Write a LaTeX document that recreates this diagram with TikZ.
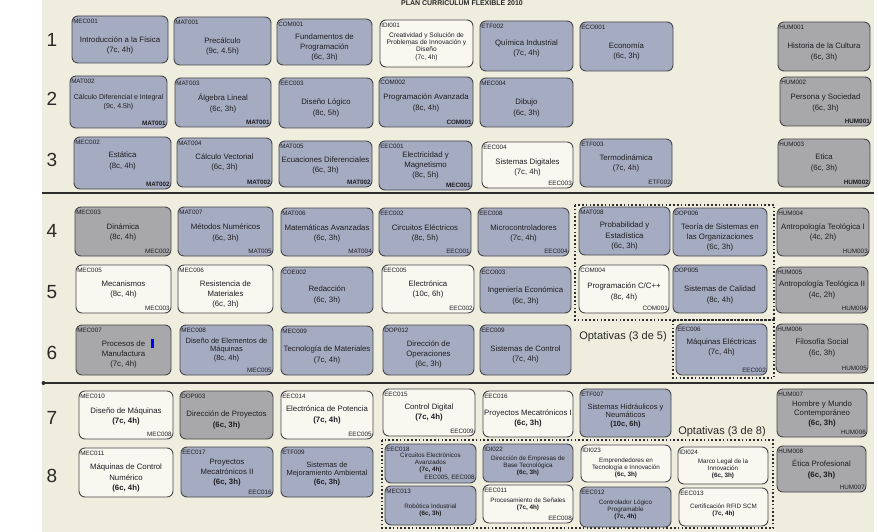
\documentclass[tikz,border=0pt]{standalone}
\usepackage{fontspec}
\setmainfont{Liberation Sans}
\usetikzlibrary{fit}
\definecolor{bgc}{RGB}{238,237,222}
\definecolor{bluec}{RGB}{165,171,192}
\definecolor{greyc}{RGB}{168,168,170}
\definecolor{whitec}{RGB}{248,247,240}
\definecolor{boxline}{RGB}{70,70,75}
\definecolor{txt}{RGB}{30,30,35}
\definecolor{numc}{RGB}{40,40,40}
\definecolor{sepc}{RGB}{45,45,45}
\tikzset{
 crsbox/.style={draw=boxline, line width=0.9pt, rounded corners=6pt, inner sep=0pt, align=center, text=txt, font=\fontsize{7.8}{10.3}\selectfont},
 bl/.style={crsbox, fill=bluec},
 gr/.style={crsbox, fill=greyc},
 wh/.style={crsbox, fill=whitec},
 mid/.style={font=\fontsize{7}{9.3}\selectfont},
 idsm/.style={font=\fontsize{6.6}{7.3}\selectfont},
 tight/.style={font=\fontsize{7.5}{8.4}\selectfont},
 semi/.style={font=\fontsize{7.8}{9.5}\selectfont},
 sm/.style={font=\fontsize{6.3}{6.9}\selectfont},
 codesty/.style={inner sep=0pt, font=\fontsize{6.3}{7}\selectfont, text=txt},
 presty/.style={inner sep=0pt, font=\fontsize{6.3}{7}\selectfont, text=txt},
 rownum/.style={font=\fontsize{19}{19}\selectfont, text=numc},
 optlabel/.style={font=\fontsize{11}{11}\selectfont, text=numc},
 sepline/.style={line width=1.4pt, draw=sepc},
 optbox/.style={draw=sepc, line width=1.8pt, dash pattern=on 1.6pt off 2.2pt},
}
% #1 name/code, #2-#5 corners, #6 style, #7 body shift down, #8 body, #9 prerequisite
\newcommand\crs[9]{%
 \node[#6, fit={(#2,#3) (#4,#5)}] (#1) {};
 \node[#6, fill=none, draw=none] (#1t) at ([shift={(0,#7)}]#1.center) {#8};
 \node[codesty, anchor=north west] (#1c) at ([xshift=1.5pt,yshift=-3pt]#1.north west) {#1};
 \node[presty, anchor=south east] (#1p) at ([xshift=-1.5pt,yshift=2.5pt]#1.south east) {#9};
}
\begin{document}
\begin{tikzpicture}[x=1pt,y=-1pt]
\useasboundingbox (0,0) rectangle (878,532);
\fill[white] (0,0) rectangle (878,532);
\fill[bgc] (42,0) rectangle (874,532);
\node[font=\bfseries\fontsize{7}{7}\selectfont, text=numc] (title) at (462,3.5) {PLAN CURRICULUM FLEXIBLE 2010};
% row numbers
\node[rownum] (r1) at (52,40) {1};
\node[rownum] (r2) at (52,99) {2};
\node[rownum] (r3) at (52,160) {3};
\node[rownum] (r4) at (52,231) {4};
\node[rownum] (r5) at (52,292) {5};
\node[rownum] (r6) at (52,353) {6};
\node[rownum] (r7) at (52,418) {7};
\node[rownum] (r8) at (52,476) {8};
% separators
\coordinate (s1a) at (42,193); \coordinate (s1b) at (874,193);
\coordinate (s2a) at (42,383); \coordinate (s2b) at (874,383);
\draw[sepline] (s1a) -- (s1b);
\draw[sepline] (s2a) -- (s2b);
\fill[sepc] (43.5,383) circle (2pt);
% optional groups
\draw[optbox] (575,205) rectangle (774,320);
\draw[optbox] (673,320) rectangle (774,378);
\draw[optbox] (382,440) rectangle (773,528);
\node[optlabel] (opt5) at (623,337) {Optativas (3 de 5)};
\node[optlabel] (opt8) at (722,432) {Optativas (3 de 8)};
% row 1
\crs{MEC001}{72}{16}{168}{63}{bl}{6}{Introducción a la Física\\(7c, 4h)}{}
\crs{MAT001}{174}{17}{271}{65}{bl}{5.5}{Precálculo\\(9c, 4.5h)}{}
\crs{COM001}{277}{19}{372}{65}{bl}{5.5}{Fundamentos de\\Programación\\(6c, 3h)}{}
\crs{IDI001}{380}{20}{473}{67}{wh,idsm}{3}{Creatividad y Solución de\\Problemas de Innovación y\\Diseño\\(7c, 4h)}{}
\crs{ETF002}{480}{21}{573}{71}{bl}{2.5}{Química Industrial\\(7c, 4h)}{}
\crs{ECO001}{580}{22}{673}{71}{bl}{5}{Economía\\(6c, 3h)}{}
\crs{HUM001}{778}{22}{870}{71}{gr}{5.5}{Historia de la Cultura\\(6c, 3h)}{}
% row 2
\crs{MAT002}{70}{76}{167}{128}{bl,mid}{0}{Cálculo Diferencial e Integral\\(9c, 4.5h)}{\textbf{MAT001}}
\crs{MAT003}{175}{78}{271}{127}{bl}{1}{Álgebra Lineal\\(6c, 3h)}{\textbf{MAT001}}
\crs{EEC003}{279}{78}{373}{128}{bl}{5}{Diseño Lógico\\(8c, 5h)}{}
\crs{COM002}{379}{77}{473}{127}{bl}{1}{Programación Avanzada\\(8c, 4h)}{\textbf{COM001}}
\crs{MEC004}{480}{78}{573}{127}{bl}{5.5}{Dibujo\\(6c, 3h)}{}
\crs{HUM002}{780}{77}{871}{126}{gr}{1.5}{Persona y Sociedad\\(6c, 3h)}{\textbf{HUM001}}
% row 3
\crs{MEC002}{74}{137}{171}{189}{bl}{-2}{Estática\\(8c, 4h)}{\textbf{MAT002}}
\crs{MAT004}{177}{138}{272}{187}{bl}{0}{Cálculo Vectorial\\(6c, 3h)}{\textbf{MAT002}}
\crs{MAT005}{279}{141}{372}{187}{bl}{1.5}{Ecuaciones Diferenciales\\(6c, 3h)}{\textbf{MAT002}}
\crs{EEC001}{379}{141}{472}{190}{bl}{0}{Electricidad y\\Magnetismo\\(8c, 5h)}{\textbf{MEC001}}
\crs{EEC004}{482}{142}{573}{188}{wh}{2.5}{Sistemas Digitales\\(7c, 4h)}{EEC003}
\crs{ETF003}{580}{139}{672}{187}{bl}{0.5}{Termodinámica\\(7c, 4h)}{ETF002}
\crs{HUM003}{778}{139}{870}{187}{gr}{0}{Etica\\(6c, 3h)}{\textbf{HUM002}}
% row 4
\crs{MEC003}{75}{207}{171}{256}{gr}{1}{Dinámica\\(8c, 4h)}{MEC002}
\crs{MAT007}{178}{207}{273}{256}{bl}{1.5}{Métodos Numéricos\\(6c, 3h)}{MAT005}
\crs{MAT006}{281}{208}{373}{256}{bl}{1.5}{Matemáticas Avanzadas\\(6c, 3h)}{MAT004}
\crs{EEC002}{379}{208}{471}{256}{bl}{1.5}{Circuitos Eléctricos\\(8c, 5h)}{EEC001}
\crs{EEC008}{478}{208}{569}{256}{bl}{1.5}{Microcontroladores\\(7c, 4h)}{EEC004}
\crs{MAT008}{579}{207}{670}{255}{bl}{5}{Probabilidad y\\Estadística\\(6c, 3h)}{}
\crs{DOP006}{673}{208}{767}{256}{bl}{5.5}{Teoría de Sistemas en\\las Organizaciones\\(6c, 3h)}{}
\crs{HUM004}{777}{208}{869}{256}{gr}{0.5}{Antropología Teológica I\\(4c, 2h)}{HUM003}
% row 5
\crs{MEC005}{76}{265}{171}{313}{wh}{0.5}{Mecanismos\\(8c, 4h)}{MEC003}
\crs{MEC006}{178}{265}{273}{313}{wh}{5.5}{Resistencia de\\Materiales\\(6c, 3h)}{}
\crs{COE002}{281}{267}{373}{313}{bl}{5}{Redacción\\(6c, 3h)}{}
\crs{EEC005}{382}{265}{474}{313}{wh}{0.5}{Electrónica\\(10c, 6h)}{EEC002}
\crs{ECO003}{480}{267}{571}{313}{bl}{6}{Ingeniería Económica\\(6c, 3h)}{}
\crs{COM004}{579}{265}{669}{313}{wh}{3}{Programación C/C++\\(8c, 4h)}{COM001}
\crs{DOP005}{673}{265}{767}{313}{bl}{6}{Sistemas de Calidad\\(8c, 4h)}{}
\crs{HUM005}{776}{267}{868}{313}{gr}{0}{Antropología Teológica II\\(4c, 2h)}{HUM004}
% row 6
\crs{MEC007}{76}{325}{171}{375}{gr}{4.5}{Procesos de\\Manufactura\\(7c, 4h)}{}
\fill[blue] (151,339) rectangle (154,348);
\crs{MEC008}{180}{325}{273}{375}{bl,tight}{0}{Diseño de Elementos de\\Máquinas\\(8c, 4h)}{MEC005}
\crs{MEC009}{281}{326}{373}{375}{bl}{4.5}{Tecnología de Materiales\\(7c, 4h)}{}
\crs{DOP012}{383}{325}{474}{375}{bl}{4.5}{Dirección de\\Operaciones\\(6c, 3h)}{}
\crs{EEC009}{480}{325}{571}{375}{bl}{4.5}{Sistemas de Control\\(7c, 4h)}{}
\crs{EEC006}{676}{324}{767}{375}{bl}{-2}{Máquinas Eléctricas\\(7c, 4h)}{EEC002}
\crs{HUM006}{776}{324}{868}{373}{gr}{-0.5}{Filosofía Social\\(6c, 3h)}{HUM005}
% row 7
\crs{MEC010}{79}{391}{173}{439}{wh}{1.5}{Diseño de Máquinas\\\textbf{(7c, 4h)}}{MEC008}
\crs{DOP003}{180}{391}{273}{439}{gr}{5}{Dirección de Proyectos\\\textbf{(6c, 3h)}}{}
\crs{EEC014}{281}{391}{373}{439}{wh}{0}{Electrónica de Potencia\\\textbf{(7c, 4h)}}{EEC005}
\crs{EEC015}{383}{389}{475}{436}{wh}{0}{Control Digital\\\textbf{(7c, 4h)}}{EEC009}
\crs{EEC016}{483}{391}{573}{437}{wh}{4.5}{Proyectos Mecatrónicos I\\\textbf{(6c, 3h)}}{}
\crs{ETF007}{580}{389}{671}{437}{bl,tight}{3}{Sistemas Hidráulicos y\\Neumáticos\\\textbf{(10c, 6h)}}{}
\crs{HUM007}{777}{389}{867}{437}{gr,semi}{0.5}{Hombre y Mundo\\Contemporáneo\\\textbf{(6c, 3h)}}{HUM006}
% row 8
\crs{MEC011}{79}{448}{173}{497}{wh}{5.5}{Máquinas de Control\\Numérico\\\textbf{(6c, 4h)}}{}
\crs{EEC017}{181}{447}{273}{497}{bl}{0.5}{Proyectos\\Mecatrónicos II\\\textbf{(6c, 3h)}}{EEC016}
\crs{ETF009}{281}{447}{373}{497}{bl,tight}{2}{Sistemas de\\Mejoramiento Ambiental\\\textbf{(6c, 3h)}}{}
\crs{EEC018}{385}{444}{476}{483}{bl,sm}{-0.5}{Circuitos Electrónicos\\Avanzados\\\textbf{(7c, 4h)}}{EEC005, EEC008}
\crs{IDI022}{483}{444}{573}{482}{bl,sm}{2.5}{Dirección de Empresas de\\Base Tecnológica\\\textbf{(6c, 3h)}}{}
\crs{IDI023}{581}{445}{671}{482}{wh,sm}{4}{Emprendedores en\\Tecnología e Innovación\\\textbf{(6c, 3h)}}{}
\crs{IDI024}{678}{447}{768}{484}{wh,sm}{3}{Marco Legal de la\\Innovación\\\textbf{(6c, 3h)}}{}
\crs{MEC013}{385}{486}{476}{525}{bl,sm}{5}{Robótica Industrial\\\textbf{(6c, 3h)}}{}
\crs{EEC011}{483}{485}{573}{523}{wh,sm}{0}{Procesamiento de Señales\\\textbf{(7c, 4h)}}{EEC008}
\crs{EEC012}{580}{487}{671}{527}{bl,sm}{2.5}{Controlador Lógico\\Programable\\\textbf{(7c, 4h)}}{}
\crs{EEC013}{679}{488}{768}{526}{wh,sm}{3.5}{Certificación RFID SCM\\\textbf{(7c, 4h)}}{}
\crs{HUM008}{777}{446}{866}{492}{gr}{0.5}{Ética Profesional\\\textbf{(6c, 3h)}}{HUM007}
\end{tikzpicture}
\end{document}
